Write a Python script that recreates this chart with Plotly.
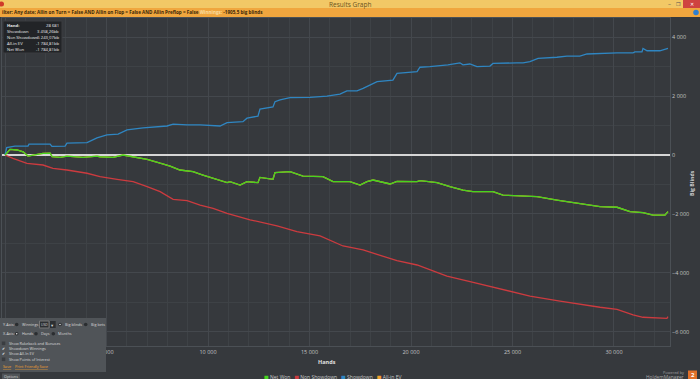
import plotly.graph_objects as go

# ---------------- data (hands, big blinds) ----------------
sd_hands = [0, 80, 490, 1130, 1180, 2220, 2310, 2960, 3050, 4040, 4530, 5020, 5570, 6010, 6800, 7490,
            7980, 8280, 8970, 9610, 10590, 10940, 11580, 11720, 11920, 12460, 12560, 13200, 13300, 13550,
            14040, 15020, 15860, 16500, 16840, 17340, 17640, 17980, 18330, 19110, 19310, 20300, 20440,
            20930, 21820, 22410, 22560, 22900, 23250, 23890, 24040, 25220, 25520, 25860, 26260, 27190,
            27680, 28320, 28670, 30150, 30940, 31030, 31380, 31430, 31630, 32260, 32660]
sd_vals = [0, 250, 300, 300, 370, 370, 290, 300, 400, 420, 580, 680, 710, 850, 920, 960,
           985, 1050, 1020, 1020, 985, 1100, 1130, 1130, 1250, 1320, 1560, 1630, 1810, 1870,
           1945, 1960, 2000, 2070, 2180, 2180, 2260, 2380, 2490, 2545, 2770, 2830, 2980,
           3000, 3060, 3130, 3060, 3090, 3000, 3020, 3110, 3130, 3130, 3170, 3280, 3320,
           3360, 3360, 3430, 3470, 3470, 3500, 3500, 3620, 3540, 3540, 3620]

net_hands = [0, 250, 590, 890, 1130, 1380, 1870, 2220, 2320, 2710, 3050, 3840, 4530, 4680, 5320, 5810,
             6310, 7000, 7640, 8130, 8620, 9260, 9750, 10590, 10940, 11080, 11580, 11920, 12460, 12560,
             13200, 13300, 14040, 14680, 15660, 16160, 16990, 17490, 17830, 18130, 18970, 19310, 20300,
             20440, 21280, 21920, 22560, 23050, 24040, 24530, 26210, 27190, 29310, 30150, 30790, 31430,
             31920, 32510, 32660]
net_vals = [0, 190, 170, 110, -35, 0, 55, 60, -55, -80, -40, -80, -40, -60, -80, 0,
            -55, -145, -280, -375, -510, -565, -680, -850, -940, -905, -1020, -905, -940, -760,
            -825, -600, -565, -715, -735, -905, -905, -1020, -905, -850, -985, -900, -905,
            -870, -940, -1075, -1190, -1245, -1245, -1360, -1415, -1530, -1755, -1775, -1925, -1960,
            -2040, -2040, -1925]

nsd_hands = [0, 390, 1080, 1870, 2360, 3050, 4040, 4680, 5520, 6310, 7000, 7640, 8280, 8970, 9610,
             10250, 10940, 11580, 12070, 13400, 14380, 15520, 16650, 17640, 18470, 19310, 20300, 20940,
             21770, 22910, 24380, 25860, 27340, 28570, 29310, 30150, 30940, 31430, 32610, 32660]
nsd_vals = [0, -115, -285, -340, -455, -510, -620, -735, -825, -905, -1075, -1245, -1505, -1550, -1700,
            -1810, -1980, -2115, -2200, -2410, -2600, -2750, -3090, -3225, -3395, -3590, -3735, -3905,
            -4110, -4300, -4550, -4790, -4960, -5100, -5170, -5240, -5430, -5510, -5545, -5490]

# All-in EV equals Net Won here (both -1 784,81bb), so it is hidden under the green line
aiev_hands = net_hands
aiev_vals = net_vals

series_names = ["Net Won", "Non Showdown", "Showdown", "All-in EV"]
series_colors = ["#46d41f", "#cc3b3f", "#2f86c2", "#f0a030"]

info_labels = ["Hand:", "Showdown", "Non Showdown", "All-in EV", "Net Won"]
info_values = ["28 681", "3 458,26bb", "-5 243,07bb", "-1 784,81bb", "-1 784,81bb"]

W, H = 700, 379
def px(x): return x / W
def py(y): return 1 - y / H

FONT = "Open Sans, DejaVu Sans, sans-serif"
BG = "#36393d"

fig = go.Figure()
fig.add_trace(go.Scatter(x=aiev_hands, y=aiev_vals, mode="lines", line=dict(color=series_colors[3], width=1.3),
                         name=series_names[3], showlegend=False))
fig.add_trace(go.Scatter(x=nsd_hands, y=nsd_vals, mode="lines", line=dict(color=series_colors[1], width=1.3),
                         name=series_names[1], showlegend=False))
fig.add_trace(go.Scatter(x=sd_hands, y=sd_vals, mode="lines", line=dict(color=series_colors[2], width=1.3),
                         name=series_names[2], showlegend=False))
fig.add_trace(go.Scatter(x=net_hands, y=net_vals, mode="lines", line=dict(color=series_colors[0], width=1.3),
                         name=series_names[0], showlegend=False))

shapes = []
ann = []

def rect(x0, y0, x1, y1, fill, line=None, layer="above"):
    shapes.append(dict(type="rect", xref="paper", yref="paper", x0=px(x0), x1=px(x1), y0=py(y1), y1=py(y0),
                       fillcolor=fill, line=dict(width=1 if line else 0, color=line or fill), layer=layer))

def circle(cx, cy, r, fill, line=None):
    shapes.append(dict(type="circle", xref="paper", yref="paper", x0=px(cx - r), x1=px(cx + r),
                       y0=py(cy + r), y1=py(cy - r), fillcolor=fill,
                       line=dict(width=0.8 if line else 0, color=line or fill), layer="above"))

def text(x, y, t, size=5, color="#d0d0d0", anchor="left", bold=False, angle=0):
    if bold:
        t = "<b>" + t + "</b>"
    ann.append(dict(x=px(x), y=py(y), xref="paper", yref="paper", text=t, showarrow=False,
                    xanchor=anchor, yanchor="middle", textangle=angle,
                    font=dict(size=size, color=color, family=FONT)))

# title bar
rect(0, 0, 700, 8, "#f2c866")
text(350, 4, "Results Graph", 6.5, "#6a5420", "center")
text(669, 4, "–", 6, "#555", "center")
text(678, 4, "❐", 5, "#555", "center")
rect(683, 0, 700, 8, "#cf4340")
text(691.5, 4, "✕", 5, "#ffffff", "center")
circle(1.5, 4, 2.5, "#d03a2a")
# filter bar
rect(0, 8, 700, 17, "#f0a63e")
text(0, 12.5, "ilter: Any date; Allin on Turn = False AND Allin on Flop = False AND Allin Preflop = False "
              "<span style='color:#f8dca0'>Winnings:</span> -1905,5 big blinds", 4.6, "#3a2608", "left", True)
circle(696, 12.5, 2.8, "#2f7fd0")

# info box
rect(3, 21, 62, 53, "#222427", "#3a3d41")
rows_y = [25, 31, 37.3, 43.6, 49.6]
for i, (lab, val, yy) in enumerate(zip(info_labels, info_values, rows_y)):
    text(5, yy, lab, 4.2, "#e8e8e8", "left", i == 0)
    text(61, yy, val, 4.2, "#e8e8e8", "right")

# axis titles
text(692, 183, "Big Blinds", 5.2, "#d0d0d0", "center", True, -90)
text(327, 362, "Hands", 5.5, "#e0e0e0", "center", True)

# legend
leg = "   ".join(f"<span style='color:{c}'>■</span> {n}" for n, c in zip(series_names, series_colors))
text(332, 376.5, leg, 5, "#c8c8c8", "center")

# powered by
text(686, 372.5, "Powered by", 3.8, "#a0a0a0", "right")
text(686, 376.6, "HoldemManager", 4.8, "#a8a8a8", "right")
rect(688, 370.5, 697, 379, "#e0702a")
text(692.5, 375, "2", 6, "#ffffff", "center", True)

# options panel
rect(0, 318, 106, 372, "#505458")
OC = "#d8d8d8"
FS = 3.8
RD = "#2a2d30"
text(1, 324.5, "Y-Axis:", FS, OC)
circle(16.7, 324.5, 1.8, RD)
text(19.5, 324.5, "Winnings", FS, OC)
rect(39.5, 321, 49, 328, "#2c2f32", "#777")
text(44.2, 324.5, "USD", 3.4, OC, "center")
rect(50, 321, 55.7, 328, "#2c2f32")
text(52.8, 324.5, "▾", 4.5, OC, "center")
circle(60, 324.5, 1.8, RD)
circle(60, 324.5, 0.8, "#e0e0e0")
text(63, 324.5, "Big blinds", FS, OC)
circle(85.7, 324.5, 1.8, RD)
text(88.8, 324.5, "Big bets", FS, OC)
text(1, 333.7, "X-Axis:", FS, OC)
circle(16.7, 333.7, 1.8, RD)
circle(16.7, 333.7, 0.8, "#e0e0e0")
text(19.5, 333.7, "Hands", FS, OC)
circle(36, 333.7, 1.8, RD)
text(39, 333.7, "Days", FS, OC)
circle(53.3, 333.7, 1.8, RD)
text(56.3, 333.7, "Months", FS, OC)
checks = [(False, "Show Rakeback and Bonuses", 343.3), (True, "Showdown Winnings", 348.7),
          (True, "Show All-In EV", 353.9), (False, "Show Points of Interest", 359.3)]
for chk, lab, yy in checks:
    if chk:
        text(3.5, yy, "✔", 3.6, "#ffffff", "center")
    else:
        rect(1.8, yy - 1.8, 5.3, yy + 1.8, "#3a3d41")
    text(7.3, yy, lab, FS, OC)
text(1.2, 366.7, "<u>Save</u>", FS, "#f0a030")
text(13.3, 366.7, "<u>Print Friendly Save</u>", FS, "#f0a030")
rect(2, 373.5, 20, 379, "#505458")
text(11, 376.5, "Options", FS, OC, "center")

fig.update_layout(
    width=W, height=H, margin=dict(l=0, r=0, t=0, b=0), autosize=False,
    paper_bgcolor=BG, plot_bgcolor=BG, separators=", ",
    showlegend=False, shapes=shapes, annotations=ann,
    xaxis=dict(domain=[px(2), px(670)], range=[-150, 32760], dtick=5000, tick0=0,
               showgrid=True, gridcolor="#44484d", gridwidth=1,
               minor=dict(dtick=1000, showgrid=True, gridcolor="#3e4246", gridwidth=1),
               tickformat=",d", ticks="", zeroline=False,
               tickfont=dict(size=5.5, color="#c4c4c4", family=FONT),
               showline=True, linecolor="#4b5055", mirror=True),
    yaxis=dict(domain=[py(346), py(18)], range=[-6486, 4652], side="right", dtick=2000, tick0=0,
               showgrid=True, gridcolor="#44484d", gridwidth=1,
               minor=dict(dtick=1000, showgrid=True, gridcolor="#3e4246", gridwidth=1),
               tickformat=",d", ticks="", zeroline=True, zerolinecolor="#d6d6d6", zerolinewidth=2,
               tickfont=dict(size=5.5, color="#c4c4c4", family=FONT),
               showline=True, linecolor="#4b5055", mirror=True),
)

fig.write_html("out.html", config={"displayModeBar": False},
               post_script="document.body.style.margin='0';document.body.style.overflow='hidden';")
